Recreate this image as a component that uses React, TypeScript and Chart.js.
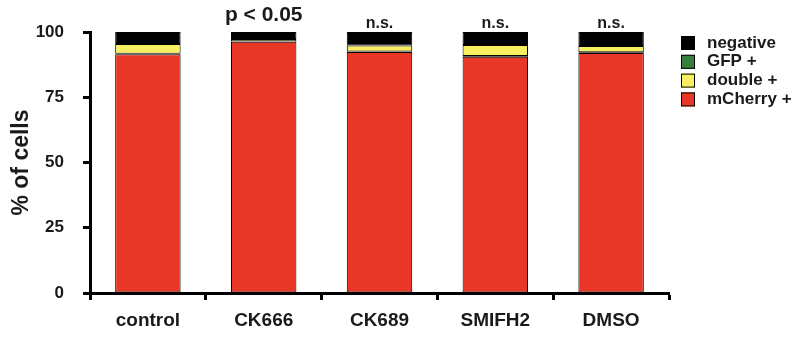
import React, { useEffect, useRef } from "react";
import { Chart, registerables } from "chart.js";

Chart.register(...registerables);

const categories = ["control", "CK666", "CK689", "SMIFH2", "DMSO"];
const mCherryPos = [91.5, 96.3, 92.3, 90.5, 92.0];
const gfpPos = [0.2, 0.2, 0.2, 0.3, 0.2];
const doublePos = [3.7, 0.8, 2.3, 4.2, 2.4];
const negative = [4.6, 2.7, 5.2, 5.0, 5.4];
const annotations = ["", "p < 0.05", "n.s.", "n.s.", "n.s."];
const yTicks = [0, 25, 50, 75, 100];
const legendOrder = ["negative", "GFP +", "double +", "mCherry +"];

const FONT = "'Liberation Sans', Arial, Helvetica, sans-serif";
const TEXT = "#1a1a1a";

const annotationPlugin = {
  id: "annot",
  afterDatasetsDraw(chart: any) {
    const { ctx, scales } = chart;
    const xs = scales.x;
    const ys = scales.y;
    ctx.save();
    ctx.fillStyle = TEXT;
    ctx.textAlign = "center";
    ctx.textBaseline = "alphabetic";
    annotations.forEach((t, i) => {
      if (!t) return;
      const big = t.startsWith("p");
      ctx.font = `bold ${big ? 21 : 16}px ${FONT}`;
      const x = xs.getPixelForValue(i);
      const y = ys.getPixelForValue(100) - (big ? 11 : 4);
      ctx.fillText(t, x, y);
    });
    ctx.restore();
  },
};

const legendPlugin = {
  id: "customLegend",
  afterDraw(chart: any) {
    const { ctx, chartArea } = chart;
    const dsList = chart.data.datasets;
    ctx.save();
    const bx = chartArea.right + 12;
    legendOrder.forEach((label, i) => {
      const d = dsList.find((x: any) => x.label === label);
      if (!d) return;
      const by = chartArea.top + 4 + i * 18.8;
      ctx.fillStyle = d.backgroundColor;
      ctx.fillRect(bx, by, 14, 14);
      ctx.strokeStyle = "#000";
      ctx.lineWidth = 1;
      ctx.strokeRect(bx + 0.5, by + 0.5, 13, 13);
      ctx.fillStyle = TEXT;
      ctx.font = `bold 17px ${FONT}`;
      ctx.textAlign = "left";
      ctx.textBaseline = "middle";
      ctx.fillText(d.label, bx + 26, by + 7);
    });
    ctx.restore();
  },
};

export default function App() {
  const ref = useRef<HTMLCanvasElement>(null);
  useEffect(() => {
    document.body.style.margin = "0";
    const common = { borderColor: "#000", borderWidth: 1, borderSkipped: false as const };
    const chart = new Chart(ref.current!, {
      type: "bar",
      data: {
        labels: categories,
        datasets: [
          { label: "mCherry +", data: mCherryPos, backgroundColor: "#E83727", ...common },
          { label: "GFP +", data: gfpPos, backgroundColor: "#35803A", ...common },
          { label: "double +", data: doublePos, backgroundColor: "#F8EE60", ...common },
          { label: "negative", data: negative, backgroundColor: "#000000", ...common },
        ],
      },
      options: {
        animation: false,
        responsive: false,
        maintainAspectRatio: false,
        layout: { padding: { top: 32, right: 123, left: 0, bottom: 0 } },
        datasets: { bar: { categoryPercentage: 1, barPercentage: 0.565 } },
        plugins: { legend: { display: false }, tooltip: { enabled: false } },
        scales: {
          x: {
            stacked: true,
            offset: true,
            afterFit: (s: any) => {
              s.height = 44;
            },
            grid: {
              offset: true,
              drawOnChartArea: false,
              drawTicks: true,
              tickLength: 7,
              tickWidth: 3,
              tickColor: "#000",
            },
            border: { display: true, color: "#000", width: 3 },
            ticks: {
              color: TEXT,
              padding: 9,
              font: { family: FONT, size: 19, weight: "bold" },
            },
          },
          y: {
            stacked: true,
            min: 0,
            max: 100,
            afterFit: (s: any) => {
              s.width = 90;
            },
            afterBuildTicks: (s: any) => {
              s.ticks = yTicks.map((v) => ({ value: v }));
            },
            grid: {
              drawOnChartArea: false,
              drawTicks: true,
              tickLength: 7,
              tickWidth: 3,
              tickColor: "#000",
            },
            border: { display: true, color: "#000", width: 3 },
            ticks: {
              color: TEXT,
              padding: 19,
              font: { family: FONT, size: 17, weight: "bold" },
            },
            title: {
              display: true,
              text: "% of cells",
              color: TEXT,
              padding: { top: 8, bottom: 0 },
              font: { family: FONT, size: 23, weight: "bold" },
            },
          },
        },
      },
      plugins: [annotationPlugin, legendPlugin],
    });
    return () => chart.destroy();
  }, []);
  return (
    <div style={{ width: 792, height: 337 }}>
      <canvas ref={ref} width={792} height={337} />
    </div>
  );
}
